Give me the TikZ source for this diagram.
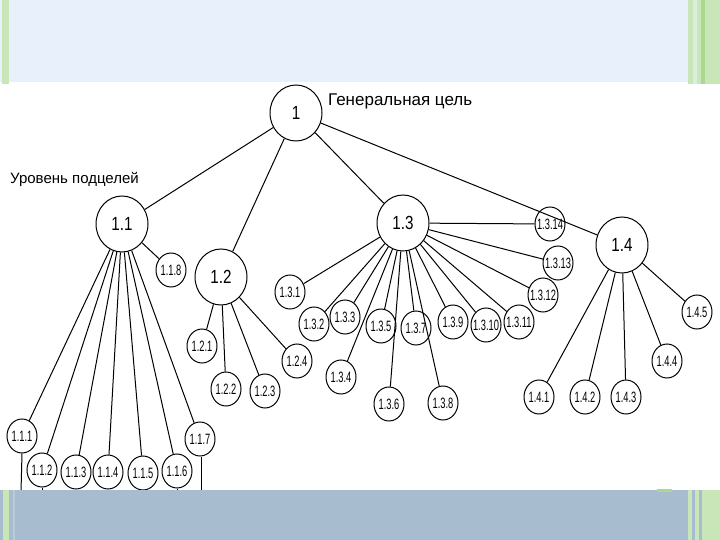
\documentclass[tikz,border=0pt]{standalone}
\usepackage{fontspec}
\setmainfont{Liberation Sans}
\newfontfamily\bignarrow[FakeStretch=0.8]{Liberation Sans}
\newfontfamily\smallnarrow[FakeStretch=0.62]{Liberation Sans}
\usetikzlibrary{shapes.geometric}
\newcommand\lab[1]{\makebox[0pt]{#1}}
\definecolor{topblue}{HTML}{E7F0FB}
\definecolor{botblue}{HTML}{A8BCCF}
\definecolor{palegreen}{HTML}{C8E6B8}
\definecolor{midgreen}{HTML}{A9D98F}
\definecolor{stripeblue}{HTML}{B9CCD8}
\begin{document}
\begin{tikzpicture}[x=1pt,y=-1pt,
  bignode/.style={ellipse, draw, line width=1pt, minimum width=52pt, minimum height=56pt, inner sep=0pt, font=\bignarrow\fontsize{19}{19}\selectfont},
  smallnode/.style={ellipse, draw, line width=1pt, minimum width=30pt, minimum height=34pt, inner sep=0pt, font=\smallnarrow\fontsize{15}{15}\selectfont},
  link/.style={line width=1pt, black},
  caption/.style={anchor=west, inner sep=0pt}]
\useasboundingbox (0,0) rectangle (720,540);
% background bands
\fill[white] (0,0) rectangle (720,540);
\fill[topblue] (0,0) rectangle (720,82);
\fill[palegreen] (2,0) rectangle (9,84);
\fill[palegreen] (688,0) rectangle (720,84);
\fill[topblue!60!palegreen] (693,0) rectangle (697,84);
\fill[midgreen] (701,0) rectangle (705,84);

% nodes
\node[bignode] (n1) at (296,113) {1};
\node[caption, font=\fontsize{17}{17}\selectfont] (t1) at (328,101) {Генеральная цель};
\node[caption, font=\fontsize{15}{15}\selectfont] (t2) at (10,179) {Уровень подцелей};

\node[bignode] (n11) at (122,224) {1.1};
\node[bignode] (n12) at (221,277) {1.2};
\node[bignode] (n13) at (403,223) {1.3};
\node[bignode] (n14) at (622,245) {1.4};

\node[smallnode] (n111) at (22,436) {\lab{1.1.1}};
\node[smallnode] (n112) at (42,470) {\lab{1.1.2}};
\node[smallnode] (n113) at (76,472) {\lab{1.1.3}};
\node[smallnode] (n114) at (108,472) {\lab{1.1.4}};
\node[smallnode] (n115) at (143,473) {\lab{1.1.5}};
\node[smallnode] (n116) at (177,471) {\lab{1.1.6}};
\node[smallnode] (n117) at (200,439) {\lab{1.1.7}};
\node[smallnode] (n118) at (171,270) {\lab{1.1.8}};

\node[smallnode] (n121) at (202,346) {\lab{1.2.1}};
\node[smallnode] (n122) at (226,389) {\lab{1.2.2}};
\node[smallnode] (n123) at (265,391) {\lab{1.2.3}};
\node[smallnode] (n124) at (297,361) {\lab{1.2.4}};

\node[smallnode] (n131) at (290,292) {\lab{1.3.1}};
\node[smallnode] (n132) at (314,324) {\lab{1.3.2}};
\node[smallnode] (n133) at (345,317) {\lab{1.3.3}};
\node[smallnode] (n134) at (341,377) {\lab{1.3.4}};
\node[smallnode] (n135) at (381,326) {\lab{1.3.5}};
\node[smallnode] (n136) at (389,404) {\lab{1.3.6}};
\node[smallnode] (n137) at (416,328) {\lab{1.3.7}};
\node[smallnode] (n138) at (443,403) {\lab{1.3.8}};
\node[smallnode] (n139) at (453,322) {\lab{1.3.9}};
\node[smallnode] (n1310) at (486,325) {\lab{1.3.10}};
\node[smallnode] (n1311) at (519,322) {\lab{1.3.11}};
\node[smallnode] (n1312) at (543,295) {\lab{1.3.12}};
\node[smallnode] (n1313) at (558,263) {\lab{1.3.13}};
\node[smallnode] (n1314) at (550,224) {\lab{1.3.14}};

\node[smallnode] (n141) at (539,397) {\lab{1.4.1}};
\node[smallnode] (n142) at (585,397) {\lab{1.4.2}};
\node[smallnode] (n143) at (626,397) {\lab{1.4.3}};
\node[smallnode] (n144) at (667,361) {\lab{1.4.4}};
\node[smallnode] (n145) at (697,312) {\lab{1.4.5}};

% connectors
\foreach \c in {n11,n12,n13,n14} \draw[link] (n1) -- (\c);
\foreach \c in {n111,n112,n113,n114,n115,n116,n117,n118} \draw[link] (n11) -- (\c);
\foreach \c in {n121,n122,n123,n124} \draw[link] (n12) -- (\c);
\foreach \c in {n131,n132,n133,n134,n135,n136,n137,n138,n139,n1310,n1311,n1312,n1313,n1314} \draw[link] (n13) -- (\c);
\foreach \c in {n141,n142,n143,n144,n145} \draw[link] (n14) -- (\c);

% lines continuing below the visible part
\coordinate (e111) at (21,492);
\coordinate (e112) at (42,492);
\coordinate (e113) at (76,492);
\coordinate (e114) at (108,492);
\coordinate (e115) at (143,492);
\coordinate (e116) at (177,492);
\coordinate (e117) at (201,492);
\coordinate (s117) at (201,457);
\draw[link] (n111.south) -- (e111);
\draw[link] (n112.south) -- (e112);
\draw[link] (n113.south) -- (e113);
\draw[link] (n114.south) -- (e114);
\draw[link] (n115.south) -- (e115);
\draw[link] (n116.south) -- (e116);
\draw[link] (s117) -- (e117);

% bottom band
\fill[botblue] (0,490) rectangle (720,540);
\fill[palegreen] (3,490) rectangle (9,540);
\fill[stripeblue] (13,490) rectangle (15,540);
\fill[palegreen] (688,490) rectangle (692,540);
\fill[palegreen] (695,490) rectangle (699,540);
\fill[palegreen] (702,490) rectangle (720,540);
\fill[midgreen] (657,489) rectangle (672,492);
\end{tikzpicture}
\end{document}
